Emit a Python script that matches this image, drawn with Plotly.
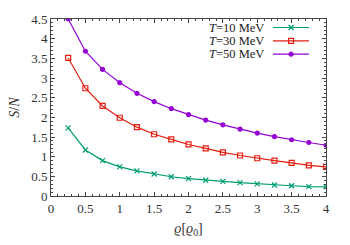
import plotly.graph_objects as go

rho = [0.25, 0.5, 0.75, 1.0, 1.25, 1.5, 1.75, 2.0, 2.25, 2.5, 2.75, 3.0, 3.25, 3.5, 3.75, 4.0]
sn_T10 = [1.73, 1.17, 0.90, 0.74, 0.64, 0.56, 0.49, 0.44, 0.40, 0.37, 0.34, 0.31, 0.28, 0.26, 0.24, 0.23]
sn_T30 = [3.51, 2.74, 2.29, 1.99, 1.75, 1.57, 1.44, 1.31, 1.21, 1.11, 1.03, 0.96, 0.90, 0.84, 0.78, 0.74]
sn_T50 = [4.50, 3.68, 3.22, 2.88, 2.61, 2.40, 2.22, 2.07, 1.93, 1.81, 1.70, 1.60, 1.51, 1.43, 1.36, 1.29]
labels = ["<i>T</i>=10 MeV", "<i>T</i>=30 MeV", "<i>T</i>=50 MeV"]
xticks = [0, 0.5, 1, 1.5, 2, 2.5, 3, 3.5, 4]
yticks = [0, 0.5, 1, 1.5, 2, 2.5, 3, 3.5, 4, 4.5]

colors = ["#009e73", "#e51e10", "#9400d3"]
symbols = ["x-thin-open", "square-open", "circle"]
msizes = [5, 5, 4]
series = [sn_T10, sn_T30, sn_T50]

FONT = "Liberation Serif"
fig = go.Figure()
for s, c, sym, ms in zip(series, colors, symbols, msizes):
    fig.add_trace(go.Scatter(x=rho, y=s, mode="lines+markers",
                             line=dict(color=c, width=1.2),
                             marker=dict(symbol=sym, size=ms, color=c,
                                         line=dict(color=c, width=1.2)),
                             showlegend=False))

# custom legend (text left, sample right)
leg_y = [0.952, 0.876, 0.801]
for lab, c, sym, ms, yy in zip(labels, colors, symbols, msizes, leg_y):
    fig.add_trace(go.Scatter(x=[0.807, 0.938], y=[yy, yy], mode="lines",
                             line=dict(color=c, width=1.2), xaxis="x2", yaxis="y2",
                             showlegend=False, hoverinfo="skip"))
    fig.add_trace(go.Scatter(x=[0.873], y=[yy], mode="markers",
                             marker=dict(symbol=sym, size=ms, color=c,
                                         line=dict(color=c, width=1.2)),
                             xaxis="x2", yaxis="y2", showlegend=False, hoverinfo="skip"))
    fig.add_annotation(x=0.778, y=yy, xref="x2", yref="y2", text=lab,
                       showarrow=False, xanchor="right", yanchor="middle", borderpad=0,
                       font=dict(family=FONT, size=12.5, color="#222"))

axis_common = dict(showgrid=False, zeroline=False, showline=True, linecolor="#444",
                   linewidth=1, mirror="allticks", ticks="inside", ticklen=4,
                   tickcolor="#444", tickfont=dict(family=FONT, size=13, color="#333"))
fig.update_layout(
    width=350, height=245,
    margin=dict(l=51, r=24, t=14, b=45),
    plot_bgcolor="white", paper_bgcolor="white",
    xaxis=dict(range=[0, 4], tickvals=xticks, ticktext=[f"{v:g}" for v in xticks],
               minor=dict(dtick=0.1, ticks="inside", ticklen=2, tickcolor="#444"),
               title=dict(text="<i>ϱ</i>[<i>ϱ</i><sub>0</sub>]", font=dict(family=FONT, size=14, color="#333"),
                          standoff=8),
               **axis_common),
    yaxis=dict(range=[0, 4.5], tickvals=yticks, ticktext=[f"{v:g}" for v in yticks],
               minor=dict(dtick=0.1, ticks="inside", ticklen=2, tickcolor="#444"),
               title=dict(text="<i>S</i>/<i>N</i>", font=dict(family=FONT, size=14, color="#333"),
                          standoff=8),
               **axis_common),
    xaxis2=dict(overlaying="x", range=[0, 1], visible=False),
    yaxis2=dict(overlaying="y", range=[0, 1], visible=False),
)
fig.write_html("out.html", config={"displayModeBar": False},
               post_script="document.body.style.margin='0';")
